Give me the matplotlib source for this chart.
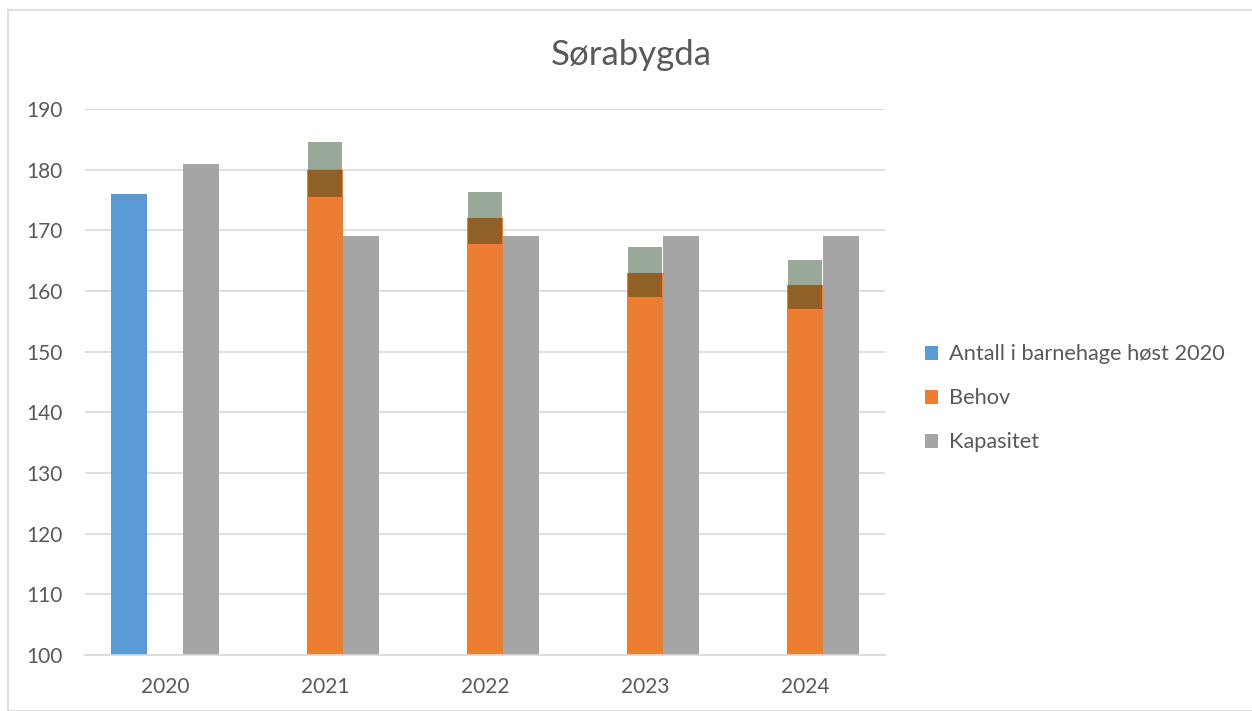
import matplotlib
matplotlib.use("Agg")
import matplotlib.pyplot as plt
import numpy as np
from matplotlib.patches import Rectangle

# data
years = ["2020", "2021", "2022", "2023", "2024"]
antall = [176, None, None, None, None]
behov = [None, 180, 172, 163, 161]
kapasitet = [181, 169, 169, 169, 169]
# uncertainty band on Behov (low, high)
band_low = [None, 175.5, 167.7, 159.0, 157.0]
band_high = [None, 184.6, 176.3, 167.2, 165.1]

text_col = "#595959"
plt.rcParams['font.family'] = ['Lato', 'DejaVu Sans']

fig = plt.figure(figsize=(12.52, 7.11), dpi=100)
ax = fig.add_axes([0.0679, 0.0788, 0.639, 0.7679])

x = np.arange(len(years))
w = 0.225
base = 100

def bars(vals, off, color, label):
    xs = [x[i] + off for i, v in enumerate(vals) if v is not None]
    hs = [v - base for v in vals if v is not None]
    ax.bar(xs, hs, w, bottom=base, color=color, label=label, zorder=2)

bars(antall, -w, "#5B9BD5", "Antall i barnehage høst 2020")
bars(behov, 0, "#ED7D31", "Behov")
bars(kapasitet, w, "#A5A5A5", "Kapasitet")

# semi-transparent band on top of Behov
for i in range(len(years)):
    if band_low[i] is None:
        continue
    ax.bar(x[i], band_high[i] - band_low[i], w * 0.93, bottom=band_low[i],
           color="#1e3f1c", alpha=0.45, zorder=3, linewidth=0)

ax.set_xlim(-0.5, len(years) - 0.5)
ax.set_ylim(100, 190)
ax.set_yticks(range(100, 191, 10))
ax.set_xticks(x)
ax.set_xticklabels(years)
ax.yaxis.grid(True, color="#D9D9D9", linewidth=1.2, zorder=0)
ax.set_axisbelow(True)
for s in ["top", "right", "left"]:
    ax.spines[s].set_visible(False)
ax.spines["bottom"].set_color("#D9D9D9")
ax.spines["bottom"].set_linewidth(1.2)
ax.tick_params(length=0, labelsize=15, colors=text_col)
ax.tick_params(axis="x", pad=16)
ax.tick_params(axis="y", pad=16)

fig.text(0.504, 0.922, "Sørabygda", ha="center", va="center", fontsize=25, color=text_col)

leg = ax.legend(loc="center left", bbox_to_anchor=(1.025, 0.47), frameon=False,
                fontsize=15.7, handlelength=0.6, handleheight=0.6, handletextpad=0.5,
                labelspacing=1.1)
for t in leg.get_texts():
    t.set_color(text_col)

fig.patches.append(Rectangle((8 / 1252, 0), 1.0, 1 - 10 / 711, transform=fig.transFigure,
                             fill=False, edgecolor="#D9D9D9", linewidth=1.2))

fig.savefig("out.png", dpi=100)
